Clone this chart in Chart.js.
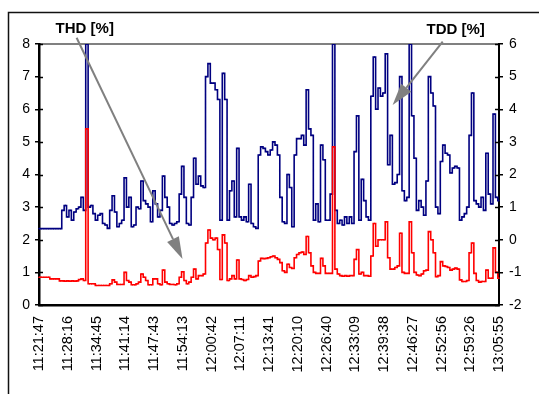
<!DOCTYPE html>
<html>
<head>
<meta charset="utf-8">
<script src="https://cdn.jsdelivr.net/npm/chart.js@4.4.1/dist/chart.umd.min.js"></script>
<style>
  html, body { margin: 0; padding: 0; background: #fff; }
  #c { display: block; }
</style>
</head>
<body>
<canvas id="c" width="539" height="394"></canvas>
<script>
// Tick labels of the time axis (one every 12 samples)
const tickLabels = ['11:21:47','11:28:16','11:34:45','11:41:14','11:47:43','11:54:13','12:00:42','12:07:11',
  '12:13:41','12:20:10','12:26:40','12:33:09','12:39:38','12:46:27','12:52:56','12:59:26','13:05:55'];
const samplesPerTick = 12;

// THD [%] (left axis, red)
const thdValues = [
  0.85,0.85,0.85,0.85,0.85,0.8,0.8,0.8,0.8,0.74,
  0.74,0.73,0.74,0.73,0.74,0.73,0.74,0.78,0.8,0.75,
  5.4,0.65,0.65,0.65,0.6,0.6,0.6,0.6,0.6,0.6,
  0.65,0.77,0.7,0.63,0.63,0.63,1.0,0.75,0.7,0.62,
  0.62,0.65,0.7,0.95,0.85,0.75,0.62,0.62,0.8,0.8,
  0.65,0.62,1.07,0.7,0.65,0.63,0.63,0.62,0.65,0.85,
  1.02,0.75,0.65,0.7,0.85,1.1,0.8,0.9,0.9,0.95,
  1.9,2.3,2.05,2.0,2.05,1.7,0.78,2.15,1.9,0.75,
  0.8,0.9,0.8,1.38,0.8,0.78,0.75,0.78,0.9,0.85,
  0.87,0.9,1.35,1.43,1.42,1.43,1.45,1.48,1.5,1.45,
  1.4,1.3,1.05,1.0,1.25,1.15,1.12,1.45,1.55,1.6,
  1.62,1.55,2.1,1.6,1.2,1.0,0.97,0.97,1.43,1.2,
  0.97,0.97,0.97,4.85,1.1,0.95,0.9,0.88,0.9,0.88,
  0.9,0.9,1.4,1.7,0.95,1.0,0.9,0.9,0.88,1.5,
  2.5,1.8,2.0,2.0,2.0,2.55,1.45,1.1,1.1,1.15,
  1.2,2.2,1.0,0.97,0.97,2.55,1.6,1.0,0.92,0.9,
  0.95,1.05,1.07,2.25,2.0,1.6,0.87,0.9,1.33,1.2,
  1.18,1.15,1.07,1.1,1.13,1.1,0.77,0.72,0.72,0.75,
  1.6,1.9,0.97,0.75,0.7,0.72,0.72,1.07,0.82,0.82,
  1.75,1.0,0.82
];

// TDD [%] (right axis, navy)
const tddValues = [
  0.34,0.34,0.34,0.34,0.34,0.34,0.34,0.34,0.34,0.34,
  0.9,1.05,0.7,0.9,0.6,0.85,0.95,1.0,1.3,0.9,
  6.0,1.0,1.05,0.8,0.6,0.75,0.8,0.5,0.45,0.35,
  0.9,1.35,0.85,0.4,0.5,0.6,1.9,1.0,1.3,0.4,
  0.45,1.0,0.95,1.8,1.2,1.1,1.0,0.55,1.5,1.1,
  0.7,0.9,1.95,1.3,1.0,0.5,0.45,0.5,0.55,1.4,
  2.25,1.3,0.5,0.45,1.3,2.5,1.7,1.95,1.65,1.6,
  5.0,5.4,4.8,4.8,4.6,4.3,0.6,5.1,4.3,0.6,
  1.5,1.8,0.7,2.8,0.7,0.6,0.7,0.55,1.7,0.5,
  0.4,0.35,2.6,2.85,2.8,2.7,2.6,2.75,3.0,2.9,
  2.6,1.3,0.55,0.5,2.0,1.6,0.4,2.6,3.1,3.1,
  3.2,2.9,4.6,3.4,3.2,0.6,1.1,0.55,2.9,2.45,
  0.6,0.6,1.4,6.0,0.9,0.5,0.6,0.45,0.7,0.5,
  0.7,0.5,2.7,3.8,0.6,1.85,1.2,0.7,0.6,4.4,
  5.6,4.0,4.65,4.4,4.5,5.7,2.3,3.2,1.7,1.75,
  2.0,5.0,1.5,1.2,1.3,6.0,3.8,2.5,0.9,1.2,
  1.0,0.75,1.8,5.0,4.5,4.1,1.0,0.8,2.4,2.9,
  2.65,2.6,2.05,2.2,2.25,2.2,0.6,0.7,0.8,1.0,
  3.2,4.5,1.2,1.1,1.0,1.3,0.9,2.65,1.4,1.1,
  3.85,1.3,1.2
];

// Callout texts and where they point (in data coordinates: sample index, axis value)
const callouts = [
  { text: 'THD [%]', axis: 'y',  label: [19.1, 8.47], from: [15.7, 8.19], tip: [59.9, 1.41] },
  { text: 'TDD [%]', axis: 'y1', label: [173.9, 6.44], from: [168.5, 6.07], tip: [147.6, 4.13] }
];

const labels = thdValues.map((_, i) => (i % samplesPerTick === 0 ? tickLabels[i / samplesPerTick] : ''));

const FONT = "'Liberation Sans', Arial, sans-serif";

const decor = {
  id: 'decor',
  beforeDraw(chart) {
    const { ctx, chartArea: a } = chart;
    ctx.save();
    ctx.fillStyle = '#fff';
    ctx.fillRect(0, 0, chart.width, chart.height);
    // outer chart frame (cut off at right and bottom)
    ctx.strokeStyle = '#111';
    ctx.lineWidth = 1.5;
    ctx.beginPath();
    ctx.moveTo(8.5, chart.height);
    ctx.lineTo(8.5, 12.5);
    ctx.lineTo(chart.width, 12.5);
    ctx.stroke();
    // plot area top border
    ctx.strokeStyle = '#808080';
    ctx.lineWidth = 2;
    ctx.beginPath();
    ctx.moveTo(a.left, a.top);
    ctx.lineTo(a.right, a.top);
    ctx.stroke();
    ctx.restore();
  },
  afterDraw(chart) {
    const { ctx, chartArea: a, scales } = chart;
    ctx.save();
    // inner half of the crossing tick marks
    ctx.strokeStyle = '#000';
    ctx.lineWidth = 1.5;
    scales.y.ticks.forEach(t => {
      const py = Math.round(scales.y.getPixelForValue(t.value)) + 0.5;
      ctx.beginPath(); ctx.moveTo(a.left, py); ctx.lineTo(a.left + 4, py); ctx.stroke();
    });
    scales.y1.ticks.forEach(t => {
      const py = Math.round(scales.y1.getPixelForValue(t.value)) + 0.5;
      ctx.beginPath(); ctx.moveTo(a.right - 4, py); ctx.lineTo(a.right, py); ctx.stroke();
    });
    // callouts
    callouts.forEach(c => {
      const ys = scales[c.axis];
      const px = v => scales.x.getPixelForValue(v);
      const lx = px(c.label[0]), ly = ys.getPixelForValue(c.label[1]);
      const fx = px(c.from[0]), fy = ys.getPixelForValue(c.from[1]);
      const tx = px(c.tip[0]), ty = ys.getPixelForValue(c.tip[1]);
      const dx = tx - fx, dy = ty - fy, len = Math.hypot(dx, dy);
      const ux = dx / len, uy = dy / len;
      const headLen = 22, headHalf = 6.5;
      const bx = tx - ux * headLen, by = ty - uy * headLen;
      ctx.strokeStyle = '#808080';
      ctx.fillStyle = '#808080';
      ctx.lineWidth = 2;
      ctx.beginPath(); ctx.moveTo(fx, fy); ctx.lineTo(bx, by); ctx.stroke();
      ctx.beginPath();
      ctx.moveTo(tx, ty);
      ctx.lineTo(bx - uy * headHalf, by + ux * headHalf);
      ctx.lineTo(bx + uy * headHalf, by - ux * headHalf);
      ctx.closePath();
      ctx.fill();
      ctx.fillStyle = '#000';
      ctx.font = 'bold 15px ' + FONT;
      ctx.textAlign = 'center';
      ctx.textBaseline = 'middle';
      ctx.fillText(c.text, lx, ly);
    });
    ctx.restore();
  }
};

new Chart(document.getElementById('c'), {
  type: 'line',
  data: {
    labels: labels,
    datasets: [
      {
        label: 'THD [%]',
        data: thdValues,
        yAxisID: 'y',
        borderColor: '#ff0000',
        backgroundColor: '#ff0000',
        borderWidth: 1.6,
        stepped: 'middle',
        pointRadius: 0.9,
        pointStyle: 'rect',
        pointBorderWidth: 0
      },
      {
        label: 'TDD [%]',
        data: tddValues,
        yAxisID: 'y1',
        borderColor: '#000080',
        backgroundColor: '#000080',
        borderWidth: 1.6,
        stepped: 'middle',
        pointRadius: 0.9,
        pointStyle: 'rect',
        pointBorderWidth: 0
      }
    ]
  },
  options: {
    responsive: false,
    animation: false,
    devicePixelRatio: 1,
    layout: { padding: { top: 44, left: 0, right: 0, bottom: 0 } },
    plugins: { legend: { display: false }, tooltip: { enabled: false } },
    scales: {
      x: {
        type: 'category',
        offset: false,
        grid: { display: false, drawTicks: false },
        border: { display: true, color: '#000', width: 2.5 },
        ticks: {
          autoSkip: false,
          minRotation: 90,
          maxRotation: 90,
          padding: 11,
          color: '#000',
          font: { family: FONT, size: 14.5 }
        },
        afterFit(s) { s.height = 89; }
      },
      y: {
        position: 'left',
        min: 0, max: 8,
        grid: { drawOnChartArea: false, drawTicks: true, tickLength: 4, color: '#000', lineWidth: 1.5 },
        border: { display: true, color: '#000', width: 2.5 },
        ticks: { stepSize: 1, padding: 5, color: '#000', font: { family: FONT, size: 14 } },
        afterFit(s) { s.width = 39; }
      },
      y1: {
        position: 'right',
        min: -2, max: 6,
        grid: { drawOnChartArea: false, drawTicks: true, tickLength: 4, color: '#000', lineWidth: 1.5 },
        border: { display: true, color: '#000', width: 2 },
        ticks: { stepSize: 1, padding: 6, color: '#000', font: { family: FONT, size: 14 } },
        afterFit(s) { s.width = 40; }
      }
    }
  },
  plugins: [decor]
});
</script>
</body>
</html>
